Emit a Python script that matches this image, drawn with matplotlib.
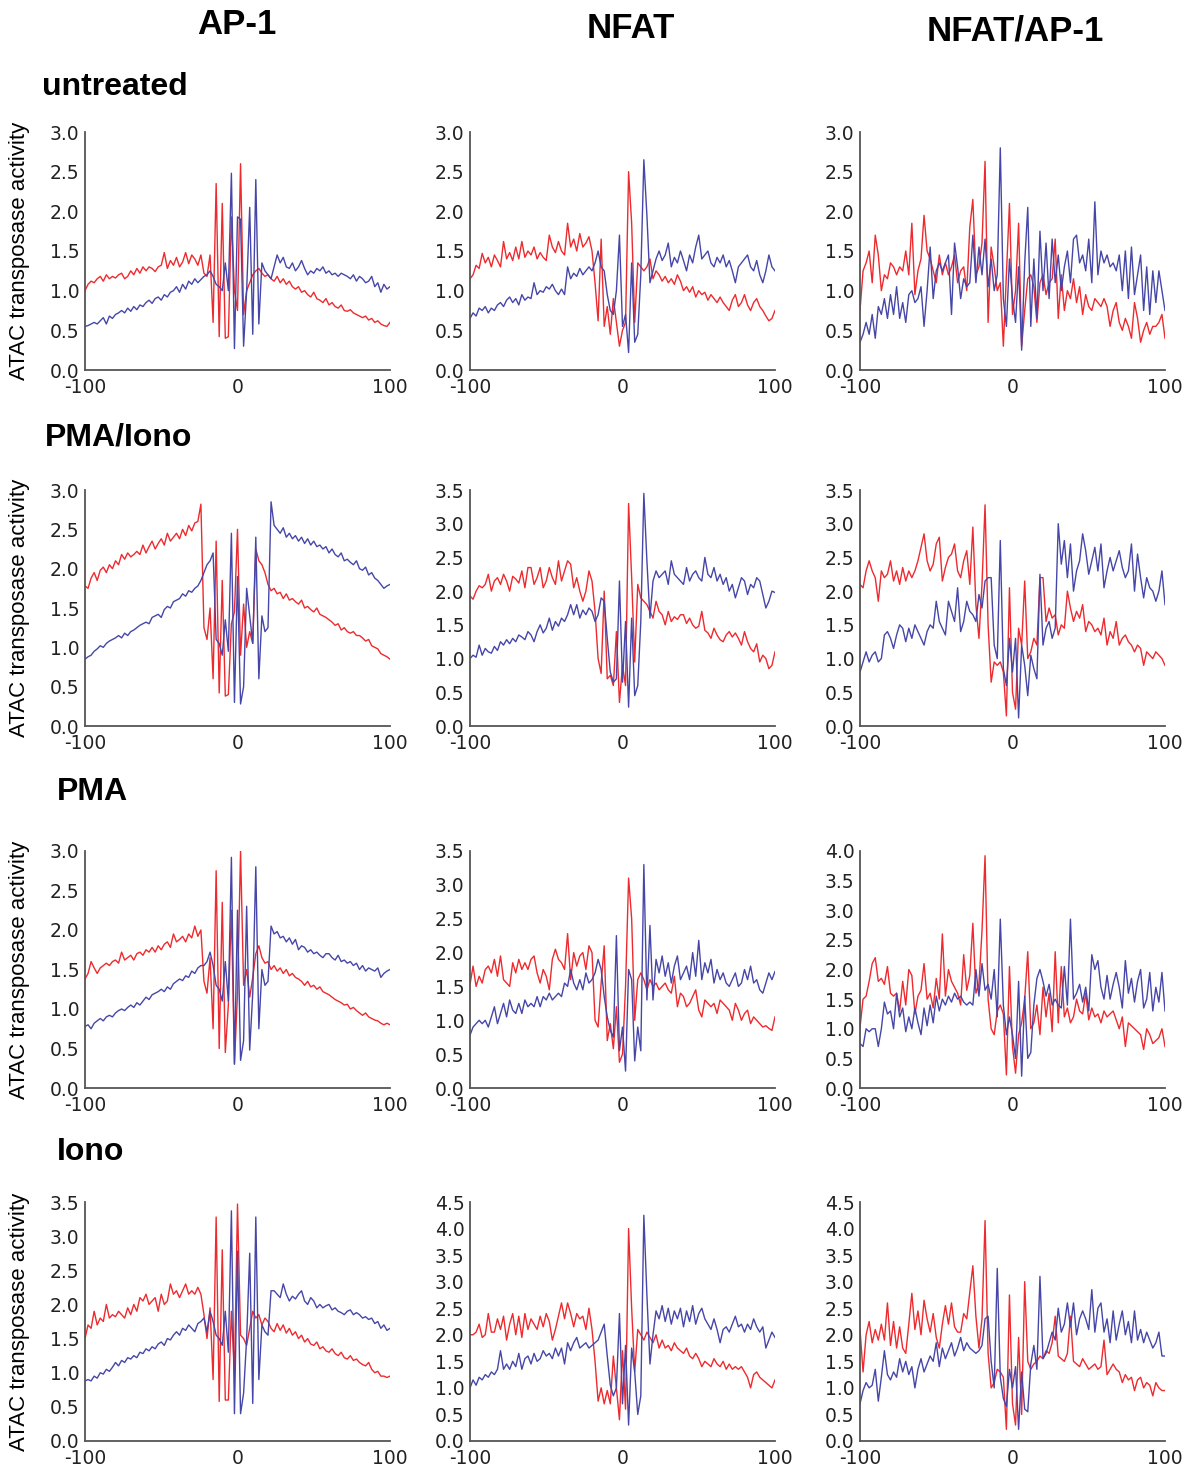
import numpy as np
import matplotlib
matplotlib.use("Agg")
import matplotlib.pyplot as plt

# ---------------- data (positions -100..100 step 2) ----------------
columns = ["AP-1", "NFAT", "NFAT/AP-1"]
conditions = ["untreated", "PMA/Iono", "PMA", "Iono"]
x_ticks = [-100, 0, 100]
ymax = [[3.0, 3.0, 3.0], [3.0, 3.5, 3.5], [3.0, 3.5, 4.0], [3.5, 4.5, 4.5]]

# Row 1: untreated
ap1_untreated_red = [
    1.00, 1.08, 1.12, 1.10, 1.15, 1.18, 1.12, 1.20, 1.15, 1.18,
    1.16, 1.20, 1.22, 1.15, 1.18, 1.25, 1.20, 1.28, 1.22, 1.30,
    1.25, 1.30, 1.28, 1.24, 1.30, 1.32, 1.48, 1.28, 1.38, 1.32,
    1.42, 1.30, 1.36, 1.48, 1.34, 1.45, 1.40, 1.32, 1.45, 1.22,
    1.18, 1.45, 0.60, 2.35, 0.42, 2.10, 0.40, 0.42, 1.93, 1.00,
    0.75, 2.60, 0.70, 1.00, 1.10, 1.20, 1.25, 1.28, 1.22, 1.18,
    1.20, 1.15, 1.12, 1.18, 1.10, 1.15, 1.08, 1.12, 1.05, 1.02,
    1.05, 0.98, 1.00, 0.95, 0.92, 0.98, 0.90, 0.88, 0.85, 0.90,
    0.82, 0.85, 0.80, 0.78, 0.82, 0.75, 0.74, 0.76, 0.72, 0.70,
    0.68, 0.66, 0.68, 0.63, 0.65, 0.60, 0.62, 0.58, 0.56, 0.55,
    0.60]
ap1_untreated_blue = [
    0.55, 0.56, 0.58, 0.60, 0.58, 0.62, 0.66, 0.58, 0.68, 0.65,
    0.70, 0.72, 0.75, 0.72, 0.78, 0.74, 0.80, 0.76, 0.82, 0.80,
    0.85, 0.88, 0.84, 0.90, 0.92, 0.88, 0.95, 0.92, 0.98, 1.00,
    1.05, 0.98, 1.08, 1.02, 1.12, 1.08, 1.15, 1.10, 1.14, 1.18,
    1.20, 1.25, 1.18, 1.08, 1.05, 1.00, 1.35, 1.00, 2.48, 0.27,
    1.93, 1.90, 0.30, 1.00, 2.05, 0.45, 2.40, 0.58, 1.35, 1.25,
    1.20, 1.15, 1.30, 1.45, 1.35, 1.42, 1.30, 1.28, 1.35, 1.25,
    1.30, 1.38, 1.28, 1.20, 1.25, 1.22, 1.28, 1.25, 1.30, 1.22,
    1.25, 1.20, 1.22, 1.18, 1.22, 1.20, 1.18, 1.15, 1.20, 1.12,
    1.18, 1.15, 1.10, 1.12, 1.18, 1.05, 1.10, 0.98, 1.08, 1.02,
    1.05]
nfat_untreated_red = [
    1.15, 1.20, 1.32, 1.28, 1.47, 1.35, 1.42, 1.30, 1.45, 1.38,
    1.30, 1.62, 1.40, 1.48, 1.38, 1.55, 1.40, 1.62, 1.42, 1.50,
    1.45, 1.55, 1.40, 1.48, 1.42, 1.38, 1.70, 1.55, 1.48, 1.62,
    1.50, 1.45, 1.85, 1.55, 1.65, 1.50, 1.72, 1.55, 1.60, 1.68,
    1.50, 1.10, 0.62, 1.65, 0.55, 0.80, 0.45, 0.90, 0.60, 0.30,
    0.50, 0.60, 2.50, 1.85, 0.60, 1.35, 1.30, 1.25, 1.30, 1.40,
    1.15, 1.25, 1.20, 1.12, 1.18, 1.10, 1.15, 1.08, 1.20, 1.12,
    1.00, 1.05, 0.98, 1.05, 0.92, 1.00, 0.95, 0.98, 0.88, 0.95,
    0.90, 0.85, 0.92, 0.85, 0.80, 0.75, 0.88, 0.95, 0.80, 0.85,
    0.95, 0.82, 0.75, 0.85, 0.90, 0.80, 0.75, 0.68, 0.62, 0.65,
    0.75]
nfat_untreated_blue = [
    0.65, 0.72, 0.68, 0.78, 0.75, 0.80, 0.72, 0.78, 0.75, 0.82,
    0.85, 0.80, 0.88, 0.92, 0.85, 0.90, 0.82, 0.95, 0.88, 0.92,
    0.90, 1.10, 0.95, 1.00, 0.98, 1.05, 1.02, 1.08, 1.00, 0.95,
    1.02, 0.95, 1.30, 1.15, 1.22, 1.18, 1.28, 1.20, 1.25, 1.30,
    1.25, 1.35, 1.50, 1.30, 1.25, 0.95, 0.75, 0.70, 1.00, 1.70,
    0.55, 0.70, 0.22, 1.35, 0.35, 0.45, 1.20, 2.65, 1.95, 1.10,
    1.25, 1.40, 1.50, 1.38, 1.45, 1.60, 1.30, 1.42, 1.35, 1.50,
    1.38, 1.25, 1.45, 1.35, 1.55, 1.70, 1.40, 1.45, 1.50, 1.35,
    1.30, 1.42, 1.35, 1.45, 1.30, 1.38, 1.25, 1.10, 1.30, 1.35,
    1.40, 1.45, 1.30, 1.25, 1.38, 1.20, 1.10, 1.25, 1.45, 1.30,
    1.25]
both_untreated_red = [
    0.75, 1.25, 1.35, 1.50, 1.10, 1.70, 1.45, 1.00, 1.20, 1.15,
    1.35, 1.30, 1.20, 1.30, 1.25, 1.50, 1.20, 1.85, 0.95, 1.25,
    1.40, 1.95, 1.50, 1.40, 1.25, 1.10, 1.45, 1.20, 1.35, 1.20,
    1.30, 1.45, 1.10, 1.25, 1.30, 1.00, 1.80, 2.15, 1.20, 1.30,
    1.60, 2.63, 0.60, 1.55, 1.30, 1.00, 1.10, 0.30, 1.20, 2.10,
    0.70, 1.00, 1.85, 0.30, 0.75, 1.15, 1.20, 1.05, 0.60, 1.10,
    1.20, 0.95, 1.10, 1.15, 1.65, 0.65, 1.20, 0.75, 1.00, 0.90,
    1.15, 0.85, 1.05, 0.70, 0.95, 0.80, 0.75, 0.90, 0.85, 0.80,
    0.90, 0.80, 0.55, 0.75, 0.85, 0.60, 0.50, 0.65, 0.55, 0.40,
    0.85, 0.65, 0.35, 0.50, 0.60, 0.45, 0.55, 0.55, 0.60, 0.70,
    0.40]
both_untreated_blue = [
    0.35, 0.45, 0.60, 0.45, 0.70, 0.40, 0.80, 0.70, 0.90, 0.65,
    0.95, 0.70, 1.05, 0.65, 0.85, 0.60, 0.95, 1.00, 0.85, 0.90,
    1.05, 0.55, 1.00, 1.55, 0.90, 1.25, 1.35, 1.25, 1.35, 1.45,
    0.70, 1.60, 1.30, 0.90, 1.15, 1.05, 1.10, 1.70, 1.10, 1.55,
    1.20, 1.65, 1.05, 1.40, 1.00, 1.20, 2.80, 0.90, 0.55, 1.40,
    0.90, 0.60, 1.30, 0.25, 1.35, 2.05, 0.55, 1.40, 0.65, 1.75,
    1.00, 1.60, 0.90, 1.65, 1.10, 1.45, 1.00, 1.30, 1.50, 1.10,
    1.65, 1.70, 1.35, 1.45, 1.25, 1.65, 1.10, 2.12, 1.20, 1.50,
    1.35, 1.45, 1.30, 1.35, 1.25, 1.45, 1.00, 1.50, 0.90, 1.55,
    0.95, 1.20, 1.45, 0.75, 1.30, 0.70, 1.25, 0.85, 1.25, 1.00,
    0.75]

# Row 2: PMA/Iono
ap1_pmaiono_red = [
    1.78, 1.75, 1.88, 1.95, 1.85, 1.98, 2.02, 1.95, 2.05, 2.00,
    2.10, 2.05, 2.18, 2.12, 2.20, 2.15, 2.18, 2.22, 2.18, 2.30,
    2.20, 2.28, 2.35, 2.25, 2.32, 2.38, 2.30, 2.45, 2.35, 2.40,
    2.45, 2.38, 2.50, 2.42, 2.55, 2.48, 2.58, 2.60, 2.82, 1.25,
    1.10, 1.50, 0.60, 2.35, 0.42, 1.85, 0.38, 0.40, 1.30, 1.45,
    2.50, 0.90, 1.55, 1.00, 1.20, 1.05, 2.25, 2.10, 2.05, 1.95,
    1.80, 1.72, 1.75, 1.68, 1.70, 1.62, 1.68, 1.60, 1.62, 1.58,
    1.55, 1.60, 1.50, 1.52, 1.48, 1.45, 1.50, 1.42, 1.40, 1.38,
    1.35, 1.32, 1.28, 1.30, 1.22, 1.25, 1.20, 1.18, 1.20, 1.15,
    1.15, 1.12, 1.08, 1.10, 1.02, 1.00, 0.98, 0.92, 0.90, 0.88,
    0.85]
ap1_pmaiono_blue = [
    0.85, 0.88, 0.90, 0.95, 0.98, 1.02, 1.00, 1.05, 1.08, 1.10,
    1.12, 1.15, 1.12, 1.18, 1.15, 1.20, 1.22, 1.25, 1.28, 1.30,
    1.32, 1.30, 1.38, 1.40, 1.42, 1.38, 1.48, 1.52, 1.50, 1.58,
    1.60, 1.62, 1.68, 1.65, 1.72, 1.70, 1.75, 1.78, 1.85, 1.95,
    2.05, 2.10, 2.20, 1.10, 1.05, 0.90, 1.35, 0.95, 2.45, 0.30,
    1.90, 0.28, 0.50, 1.75, 1.40, 1.05, 2.40, 0.60, 1.40, 1.20,
    1.25, 2.85, 2.55, 2.50, 2.45, 2.52, 2.40, 2.45, 2.38, 2.42,
    2.35, 2.40, 2.32, 2.38, 2.30, 2.35, 2.28, 2.30, 2.25, 2.28,
    2.20, 2.25, 2.18, 2.15, 2.20, 2.10, 2.12, 2.08, 2.05, 2.10,
    2.00, 1.98, 2.02, 1.92, 1.95, 1.88, 1.85, 1.80, 1.75, 1.78,
    1.80]
nfat_pmaiono_red = [
    1.93, 1.88, 2.00, 2.08, 2.05, 2.10, 2.25, 2.00, 2.15, 2.20,
    2.10, 2.25, 2.15, 2.00, 2.22, 2.18, 2.12, 2.30, 2.05, 2.35,
    2.35, 2.10, 2.20, 2.35, 2.05, 2.15, 2.35, 2.20, 2.10, 2.45,
    2.15, 2.30, 2.45, 2.40, 2.05, 2.20, 2.00, 1.85, 2.00, 2.30,
    2.15, 1.70, 1.00, 0.78, 2.00, 0.70, 0.75, 0.60, 1.40, 0.35,
    0.90, 0.60, 3.30, 2.20, 0.95, 2.10, 1.90, 1.85, 1.80, 1.70,
    1.60, 1.85, 1.70, 1.65, 1.50, 1.70, 1.55, 1.62, 1.58, 1.65,
    1.65, 1.52, 1.60, 1.50, 1.45, 1.48, 1.70, 1.42, 1.38, 1.30,
    1.45, 1.35, 1.28, 1.25, 1.35, 1.40, 1.32, 1.38, 1.30, 1.20,
    1.40, 1.25, 1.15, 1.10, 1.22, 0.95, 1.05, 1.00, 0.85, 0.90,
    1.10]
nfat_pmaiono_blue = [
    1.00, 1.05, 1.02, 1.20, 1.05, 1.15, 1.10, 1.08, 1.18, 1.12,
    1.25, 1.20, 1.28, 1.22, 1.30, 1.25, 1.35, 1.32, 1.28, 1.40,
    1.35, 1.25, 1.40, 1.50, 1.38, 1.45, 1.60, 1.42, 1.55, 1.48,
    1.60, 1.55, 1.65, 1.80, 1.65, 1.80, 1.60, 1.72, 1.65, 1.75,
    1.70, 1.55, 1.65, 1.90, 1.85, 1.30, 0.80, 0.65, 0.70, 2.15,
    0.65, 1.55, 0.28, 1.60, 0.45, 0.60, 1.55, 3.45, 2.45, 1.60,
    2.15, 2.30, 2.20, 2.25, 2.30, 2.10, 2.45, 2.25, 2.20, 2.15,
    2.10, 2.35, 2.15, 2.25, 2.30, 2.20, 2.15, 2.50, 2.25, 2.20,
    2.35, 2.15, 2.25, 2.10, 2.20, 2.00, 2.10, 1.90, 2.05, 2.20,
    2.15, 1.95, 2.10, 2.05, 2.20, 2.15, 1.95, 1.75, 1.85, 2.00,
    1.98]
both_pmaiono_red = [
    2.10, 2.05, 2.30, 2.45, 2.30, 2.20, 1.85, 2.30, 2.20, 2.25,
    2.45, 2.15, 2.30, 2.10, 2.35, 2.15, 2.30, 2.20, 2.30, 2.45,
    2.65, 2.85, 2.45, 2.30, 2.40, 2.70, 2.80, 2.15, 2.35, 2.50,
    2.55, 2.70, 2.30, 2.20, 2.45, 2.60, 2.10, 2.95, 1.80, 1.30,
    2.10, 3.28, 1.50, 0.65, 0.95, 0.90, 0.95, 0.80, 0.15, 2.05,
    0.50, 0.25, 1.45, 1.20, 2.15, 1.00, 1.10, 1.30, 1.20, 2.20,
    2.20, 1.55, 1.75, 1.60, 1.65, 1.35, 1.50, 1.45, 2.00, 1.75,
    1.55, 1.70, 1.60, 1.80, 1.40, 1.55, 1.50, 1.40, 1.45, 1.35,
    1.60, 1.20, 1.40, 1.30, 1.55, 1.20, 1.30, 1.35, 1.25, 1.20,
    1.10, 1.20, 1.15, 0.90, 1.10, 1.05, 1.00, 1.10, 1.05, 1.00,
    0.90]
both_pmaiono_blue = [
    0.80, 0.95, 1.10, 0.95, 1.05, 1.10, 0.95, 1.00, 1.35, 1.40,
    1.30, 1.15, 1.35, 1.50, 1.45, 1.25, 1.45, 1.30, 1.50, 1.40,
    1.30, 1.20, 1.40, 1.50, 1.45, 1.85, 1.55, 1.45, 1.35, 1.85,
    1.70, 1.55, 2.05, 1.40, 1.55, 1.85, 1.70, 1.65, 1.55, 1.95,
    1.75, 2.15, 2.20, 2.20, 1.20, 1.00, 2.75, 0.85, 0.60, 1.30,
    0.80, 1.30, 0.12, 1.20, 0.90, 0.45, 1.05, 0.85, 0.70, 2.25,
    1.20, 1.45, 1.55, 1.30, 1.45, 3.00, 2.40, 2.75, 2.20, 2.70,
    2.00, 2.30, 2.45, 2.85, 2.60, 2.25, 2.45, 2.65, 2.30, 2.70,
    2.05, 2.30, 2.50, 2.30, 2.45, 2.60, 2.35, 2.20, 2.30, 2.70,
    2.00, 2.55, 2.20, 1.90, 2.20, 2.05, 2.00, 1.85, 2.00, 2.30,
    1.80]

# Row 3: PMA
ap1_pma_red = [
    1.38, 1.45, 1.60, 1.52, 1.45, 1.52, 1.55, 1.58, 1.55, 1.60,
    1.62, 1.58, 1.72, 1.62, 1.65, 1.68, 1.62, 1.70, 1.72, 1.68,
    1.75, 1.72, 1.78, 1.72, 1.80, 1.75, 1.82, 1.85, 1.78, 1.95,
    1.85, 1.88, 1.92, 1.85, 1.95, 1.90, 2.05, 1.92, 2.00, 1.35,
    1.20, 1.65, 0.75, 2.75, 0.50, 2.35, 0.45, 1.05, 2.25, 0.31,
    1.20, 3.00, 1.30, 1.50, 1.15, 1.40, 1.70, 1.80, 1.65, 1.58,
    1.60, 1.50, 1.55, 1.48, 1.52, 1.45, 1.50, 1.42, 1.45, 1.40,
    1.38, 1.35, 1.30, 1.35, 1.28, 1.30, 1.25, 1.28, 1.22, 1.20,
    1.18, 1.15, 1.12, 1.10, 1.08, 1.05, 1.06, 1.00, 1.02, 0.98,
    0.95, 0.92, 0.95, 0.90, 0.88, 0.86, 0.85, 0.82, 0.80, 0.82,
    0.80]
ap1_pma_blue = [
    0.78, 0.80, 0.75, 0.82, 0.85, 0.88, 0.85, 0.90, 0.92, 0.90,
    0.95, 0.98, 1.00, 0.98, 1.02, 1.05, 1.02, 1.08, 1.05, 1.10,
    1.15, 1.12, 1.18, 1.20, 1.22, 1.25, 1.22, 1.28, 1.25, 1.32,
    1.35, 1.38, 1.36, 1.42, 1.40, 1.48, 1.45, 1.52, 1.55, 1.55,
    1.60, 1.72, 1.55, 1.30, 1.25, 1.10, 1.60, 1.10, 2.92, 0.30,
    2.25, 0.35, 0.60, 2.30, 0.48, 1.20, 2.80, 0.75, 1.50, 1.30,
    1.35, 2.05, 1.95, 1.98, 1.90, 1.92, 1.85, 1.90, 1.82, 1.88,
    1.75, 1.80, 1.78, 1.72, 1.75, 1.70, 1.72, 1.68, 1.65, 1.70,
    1.70, 1.65, 1.62, 1.68, 1.60, 1.62, 1.58, 1.60, 1.55, 1.58,
    1.50, 1.55, 1.48, 1.52, 1.50, 1.48, 1.52, 1.40, 1.45, 1.48,
    1.50]
nfat_pma_red = [
    1.53, 1.80, 1.50, 1.65, 1.55, 1.75, 1.80, 1.70, 1.90, 1.65,
    1.95, 1.60, 1.55, 1.50, 1.85, 1.70, 1.90, 1.75, 1.85, 1.75,
    1.90, 1.95, 1.70, 1.55, 1.75, 1.65, 1.45, 1.90, 2.05, 1.90,
    1.85, 1.75, 2.28, 1.60, 2.00, 1.80, 1.95, 2.00, 1.75, 2.10,
    2.00, 1.00, 0.90, 1.55, 2.10, 0.70, 0.95, 0.58, 1.20, 0.38,
    0.50, 1.50, 3.10, 2.50, 1.00, 1.60, 1.70, 1.60, 1.45, 1.60,
    1.50, 1.55, 1.45, 1.50, 1.55, 1.45, 1.40, 1.65, 1.20, 1.40,
    1.35, 1.20, 1.25, 1.35, 1.45, 1.15, 1.05, 1.30, 1.25, 1.20,
    1.25, 1.10, 1.30, 1.25, 1.20, 1.15, 1.00, 1.25, 1.15, 1.00,
    1.10, 1.15, 0.95, 1.05, 1.00, 0.95, 0.90, 0.92, 0.88, 0.85,
    1.05]
nfat_pma_blue = [
    0.78, 0.90, 0.95, 1.00, 0.95, 1.00, 0.90, 1.05, 1.20, 0.95,
    1.10, 1.25, 1.05, 1.30, 1.15, 1.10, 1.25, 1.10, 1.30, 1.20,
    1.25, 1.20, 1.35, 1.20, 1.35, 1.30, 1.40, 1.30, 1.35, 1.40,
    1.35, 1.55, 1.50, 1.75, 1.55, 1.45, 1.60, 1.45, 1.70, 1.55,
    1.60, 1.70, 1.90, 1.75, 1.35, 1.05, 0.85, 0.75, 2.25, 0.55,
    0.90, 0.25, 1.75, 1.60, 0.40, 0.90, 0.55, 3.30, 1.30, 2.40,
    1.30, 1.90, 1.70, 1.95, 1.65, 1.85, 1.55, 1.80, 1.95, 1.60,
    1.70, 1.80, 1.60, 2.00, 1.65, 2.18, 1.60, 1.85, 1.70, 1.90,
    1.55, 1.75, 1.60, 1.70, 1.55, 1.50, 1.60, 1.70, 1.50, 1.55,
    1.75, 1.60, 1.80, 1.55, 1.60, 1.45, 1.40, 1.55, 1.70, 1.60,
    1.72]
both_pma_red = [
    1.02, 1.50, 1.55, 1.80, 2.10, 2.20, 1.80, 1.85, 1.75, 2.05,
    1.60, 1.55, 1.60, 1.30, 1.80, 1.40, 2.00, 1.90, 1.25, 1.55,
    1.65, 2.10, 1.50, 1.60, 1.35, 1.85, 1.50, 2.60, 1.55, 2.00,
    1.80, 1.70, 1.60, 1.40, 2.25, 1.65, 1.90, 2.78, 1.60, 1.75,
    2.65, 3.92, 1.50, 1.00, 0.90, 1.30, 1.40, 1.25, 0.22, 2.05,
    0.70, 0.25, 0.90, 1.10, 1.50, 2.30, 1.00, 1.10, 1.40, 0.90,
    1.70, 1.20, 1.60, 0.95, 2.30, 1.10, 2.05, 1.20, 1.35, 1.10,
    1.20, 1.50, 1.30, 1.25, 1.60, 1.15, 1.35, 1.20, 1.25, 1.10,
    1.30, 1.20, 1.25, 1.30, 1.15, 1.00, 1.20, 0.70, 1.10, 1.05,
    1.00, 0.95, 0.90, 0.65, 1.00, 0.90, 0.75, 0.80, 0.85, 1.00,
    0.70]
both_pma_blue = [
    0.75, 0.70, 1.00, 0.95, 1.00, 1.00, 0.70, 1.00, 1.45, 1.25,
    1.30, 1.00, 1.60, 1.20, 1.35, 0.95, 1.20, 1.00, 1.35, 1.10,
    0.90, 1.35, 1.05, 1.40, 1.10, 1.55, 1.30, 1.50, 1.40, 1.55,
    1.45, 1.60, 1.50, 1.55, 1.45, 1.40, 1.45, 1.40, 2.00, 1.55,
    2.10, 1.65, 1.75, 1.50, 2.00, 1.20, 2.85, 1.40, 0.90, 1.20,
    0.90, 0.50, 1.80, 0.20, 1.55, 0.50, 0.60, 1.40, 1.85, 2.00,
    1.80, 1.55, 1.75, 1.40, 1.50, 1.40, 1.35, 2.05, 1.40, 2.85,
    1.50, 1.60, 1.75, 1.45, 1.70, 1.30, 2.25, 2.00, 2.15, 1.70,
    1.50, 1.90, 1.50, 1.75, 1.95, 1.70, 1.35, 2.15, 1.60, 1.85,
    1.45, 1.80, 2.00, 1.35, 1.50, 1.95, 1.30, 1.70, 1.45, 1.95,
    1.30]

# Row 4: Iono
ap1_iono_red = [
    1.50, 1.70, 1.65, 1.90, 1.70, 1.80, 1.75, 2.00, 1.80, 1.85,
    1.82, 1.90, 1.85, 1.80, 1.95, 1.85, 2.00, 1.90, 2.10, 2.05,
    2.15, 2.00, 2.05, 2.10, 1.90, 2.15, 2.00, 2.05, 2.30, 2.15,
    2.20, 2.10, 2.20, 2.30, 2.15, 2.20, 2.15, 2.25, 2.15, 1.85,
    1.50, 1.95, 0.90, 3.28, 0.58, 2.80, 0.60, 0.60, 1.90, 1.00,
    3.47, 1.55, 1.50, 1.40, 1.65, 1.90, 1.80, 1.85, 1.70, 1.80,
    1.75, 1.65, 1.60, 1.72, 1.62, 1.70, 1.58, 1.65, 1.55, 1.60,
    1.50, 1.55, 1.45, 1.50, 1.42, 1.40, 1.45, 1.35, 1.38, 1.32,
    1.30, 1.35, 1.28, 1.25, 1.30, 1.22, 1.20, 1.25, 1.18, 1.20,
    1.15, 1.12, 1.10, 1.15, 1.05, 1.00, 1.02, 0.95, 0.95, 0.93,
    0.95]
ap1_iono_blue = [
    0.88, 0.90, 0.88, 0.95, 0.92, 1.00, 0.98, 1.05, 1.02, 1.08,
    1.15, 1.10, 1.18, 1.15, 1.22, 1.20, 1.25, 1.22, 1.30, 1.28,
    1.35, 1.32, 1.38, 1.35, 1.42, 1.45, 1.40, 1.50, 1.48, 1.55,
    1.60, 1.55, 1.65, 1.62, 1.70, 1.65, 1.60, 1.72, 1.75, 1.80,
    1.60, 1.90, 1.75, 1.55, 1.50, 1.40, 1.90, 1.30, 3.37, 0.40,
    2.78, 0.40, 0.70, 1.50, 2.75, 0.55, 3.28, 0.90, 1.70, 1.60,
    1.55, 2.20, 2.20, 2.15, 2.10, 2.30, 2.15, 2.05, 2.12, 2.08,
    2.15, 2.20, 2.05, 2.00, 2.10, 2.05, 1.95, 2.00, 1.95, 1.98,
    2.00, 1.92, 1.95, 1.90, 1.88, 1.85, 1.90, 1.92, 1.85, 1.88,
    1.85, 1.80, 1.82, 1.78, 1.80, 1.72, 1.75, 1.65, 1.70, 1.62,
    1.65]
nfat_iono_red = [
    2.00, 2.00, 2.05, 2.20, 1.95, 2.00, 2.40, 2.05, 2.05, 2.30,
    2.10, 2.35, 1.90, 2.20, 2.40, 2.00, 2.35, 1.95, 2.40, 2.10,
    2.30, 2.20, 2.10, 2.35, 2.15, 2.40, 2.25, 1.90, 2.10, 2.35,
    2.60, 2.30, 2.60, 2.40, 2.15, 2.40, 2.30, 2.35, 2.10, 2.50,
    2.10, 1.50, 0.75, 1.00, 0.70, 0.95, 0.70, 1.60, 1.00, 0.40,
    1.70, 0.60, 4.00, 2.50, 1.30, 2.10, 2.00, 1.90, 2.05, 1.95,
    1.85, 2.00, 1.75, 1.90, 1.75, 1.80, 1.70, 1.85, 1.75, 1.70,
    1.65, 1.75, 1.60, 1.55, 1.65, 1.55, 1.40, 1.50, 1.45, 1.40,
    1.55, 1.45, 1.40, 1.50, 1.35, 1.45, 1.35, 1.40, 1.35, 1.40,
    1.30, 1.20, 1.00, 1.25, 1.30, 1.20, 1.15, 1.10, 1.05, 1.00,
    1.15]
nfat_iono_blue = [
    1.00, 1.15, 1.05, 1.20, 1.15, 1.25, 1.20, 1.30, 1.25, 1.35,
    1.70, 1.35, 1.45, 1.35, 1.50, 1.40, 1.65, 1.35, 1.55, 1.60,
    1.45, 1.65, 1.50, 1.55, 1.70, 1.60, 1.65, 1.55, 1.75, 1.60,
    1.75, 1.45, 1.85, 1.70, 1.85, 1.95, 1.75, 1.80, 1.85, 1.75,
    1.80, 1.85, 1.90, 2.05, 2.20, 1.60, 1.05, 0.85, 1.00, 2.40,
    0.70, 1.80, 0.30, 1.75, 1.30, 0.50, 0.85, 4.25, 2.75, 1.45,
    2.00, 2.45, 2.30, 2.55, 2.25, 2.50, 2.20, 2.45, 2.30, 2.50,
    2.15, 2.45, 2.25, 2.55, 2.20, 2.40, 2.50, 2.30, 2.20, 2.10,
    2.30, 2.10, 1.85, 2.10, 2.15, 2.05, 2.20, 2.35, 2.15, 2.20,
    2.05, 2.20, 2.10, 2.30, 2.15, 2.05, 2.15, 1.75, 1.90, 2.05,
    1.95]
both_iono_red = [
    2.10, 1.30, 2.00, 2.25, 1.85, 2.10, 1.90, 2.20, 1.90, 2.60,
    1.80, 2.25, 1.75, 2.15, 1.75, 1.65, 2.20, 2.78, 2.10, 2.45,
    2.00, 2.65, 2.30, 2.05, 2.40, 1.95, 1.75, 2.20, 2.55, 2.20,
    2.60, 2.15, 2.05, 2.05, 2.40, 2.30, 2.80, 3.30, 2.35, 1.75,
    2.30, 4.15, 1.65, 1.00, 1.10, 1.35, 1.30, 1.20, 0.22, 2.75,
    0.70, 0.30, 1.95, 0.50, 3.00, 1.50, 1.35, 1.45, 1.50, 1.60,
    1.55, 1.70, 1.65, 1.85, 2.35, 1.60, 1.55, 1.50, 1.65, 2.35,
    1.50, 1.45, 1.40, 1.55, 1.45, 1.35, 1.40, 1.45, 1.35, 1.40,
    1.90, 1.25, 1.35, 1.45, 1.35, 1.30, 1.10, 1.25, 1.15, 1.20,
    0.95, 1.15, 1.20, 1.00, 1.10, 1.05, 0.85, 1.10, 1.00, 0.95,
    0.95]
both_iono_blue = [
    0.70, 0.95, 1.10, 1.00, 1.05, 1.35, 0.75, 1.20, 1.70, 1.25,
    1.15, 1.30, 1.20, 1.55, 1.30, 1.50, 1.25, 1.40, 1.00, 1.35,
    1.55, 1.30, 1.45, 1.60, 1.50, 1.85, 1.40, 1.75, 1.55, 1.70,
    1.85, 1.60, 1.75, 1.95, 1.70, 1.85, 1.75, 1.70, 1.65, 1.70,
    1.80, 2.30, 2.35, 1.50, 1.00, 3.25, 1.20, 0.80, 0.65, 1.35,
    1.00, 1.40, 0.22, 1.30, 0.60, 0.55, 1.45, 1.80, 1.35, 3.10,
    1.55, 1.65, 1.85, 2.05, 1.90, 2.50, 2.05, 2.20, 2.60, 2.15,
    2.60, 2.00, 2.30, 2.45, 2.30, 2.10, 2.85, 2.05, 2.50, 2.60,
    2.05, 2.30, 1.85, 2.45, 1.90, 2.20, 2.45, 2.00, 2.25, 1.85,
    2.45, 1.90, 2.10, 1.85, 2.05, 1.90, 1.75, 1.85, 2.05, 1.60,
    1.60]

red_series = [
    [ap1_untreated_red, nfat_untreated_red, both_untreated_red],
    [ap1_pmaiono_red, nfat_pmaiono_red, both_pmaiono_red],
    [ap1_pma_red, nfat_pma_red, both_pma_red],
    [ap1_iono_red, nfat_iono_red, both_iono_red],
]
blue_series = [
    [ap1_untreated_blue, nfat_untreated_blue, both_untreated_blue],
    [ap1_pmaiono_blue, nfat_pmaiono_blue, both_pmaiono_blue],
    [ap1_pma_blue, nfat_pma_blue, both_pma_blue],
    [ap1_iono_blue, nfat_iono_blue, both_iono_blue],
]

# ---------------- layout ----------------
W, H = 1192, 1466
fig = plt.figure(figsize=(W / 100, H / 100), dpi=100)

col_px = [(85, 390), (470, 775), (860, 1165)]
row_px = [(132, 370), (490, 726), (851, 1088), (1202, 1441)]

RED = "#ee2a2e"
BLUE = "#4646a8"
SPINE = "#555555"
tick_font = "DejaVu Sans"
lab_font = ["Liberation Sans", "DejaVu Sans"]

for r in range(4):
    top, bot = row_px[r]
    for c in range(3):
        left, right = col_px[c]
        ax = fig.add_axes([left / W, 1 - bot / H, (right - left) / W, (bot - top) / H])
        red = red_series[r][c]
        blue = blue_series[r][c]
        xr = np.linspace(-100, 100, len(red))
        xb = np.linspace(-100, 100, len(blue))
        ax.plot(xr, red, color=RED, lw=1.0)
        ax.plot(xb, blue, color=BLUE, lw=1.0)
        ax.set_xlim(-100, 100)
        ax.set_ylim(0, ymax[r][c])
        ax.set_xticks(x_ticks)
        ax.set_xticklabels([str(t) for t in x_ticks])
        yt = np.arange(0, ymax[r][c] + 0.01, 0.5)
        ax.set_yticks(yt)
        ax.set_yticklabels([f"{v:.1f}" for v in yt])
        for s in ("top", "right"):
            ax.spines[s].set_visible(False)
        for s in ("left", "bottom"):
            ax.spines[s].set_color(SPINE)
            ax.spines[s].set_linewidth(1.3)
        ax.tick_params(axis="y", length=0, pad=4, labelsize=13.5, colors="#222222")
        ax.tick_params(axis="x", length=0, pad=6, labelsize=13.5, colors="#222222")
        for lbl in ax.get_xticklabels() + ax.get_yticklabels():
            lbl.set_fontfamily(tick_font)
    # y label for the row
    fig.text(20 / W, 1 - ((top + bot) / 2) / H, "ATAC transposase activity",
             rotation=90, ha="center", va="center", fontsize=16, family=lab_font)

# column titles
title_pos = [(237, 25), (631, 29), (1015, 31)]
for name, (tx, ty) in zip(columns, title_pos):
    fig.text(tx / W, 1 - ty / H, name, ha="center", va="center",
             fontsize=25, fontweight="bold", family=lab_font)

# row labels
row_lab_pos = [(42, 87), (45, 437), (57, 792), (57, 1152)]
for name, (tx, ty) in zip(conditions, row_lab_pos):
    fig.text(tx / W, 1 - ty / H, name, ha="left", va="center",
             fontsize=23, fontweight="bold", family=lab_font)

fig.savefig("out.png", dpi=100, facecolor="white")
